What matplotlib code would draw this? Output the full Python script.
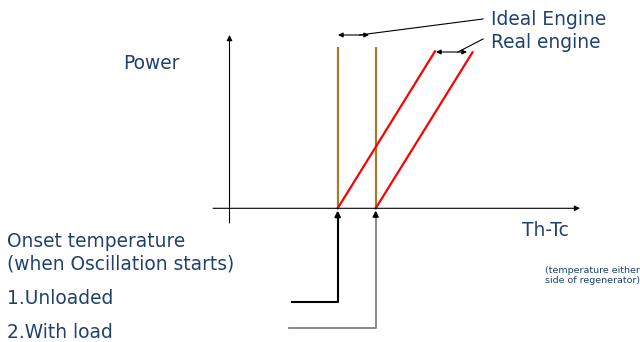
import numpy as np
import matplotlib.pyplot as plt

# schematic values, 1 unit = 10 px, origin at the axis crossing
onset = [10.82, 14.62]          # onset of oscillation: unloaded, with load
ideal_top = 16.1                # top of the vertical (ideal) lines
real_top_x = [20.55, 24.3]      # real engine lines end here
real_top_y = [15.7, 15.6]
bracket_y = [-9.37, -11.97]     # bottom of the onset pointer brackets
bracket_x = [6.25, 5.95]

blue = '#1F4170'
brown = '#A67C28'

fig = plt.figure(figsize=(6.4, 3.42), dpi=100)
ax = fig.add_axes([0, 0, 1, 1])
ax.set_xlim(-22.95, 41.05)
ax.set_ylim(-13.37, 20.83)
ax.axis('off')

arrow = dict(arrowstyle='-|>', mutation_scale=8, lw=0.8, color='black', shrinkA=0, shrinkB=0)

# axes
ax.annotate('', xy=(35.05, 0), xytext=(-1.65, 0), arrowprops=arrow)
ax.annotate('', xy=(0, 17.33), xytext=(0, -1.47), arrowprops=arrow)

# ideal engine: vertical lines at onset
for x0 in onset:
    ax.plot([x0, x0], [0, ideal_top], color=brown, lw=1.6, solid_capstyle='butt')

# real engine: slanted lines
for x0, x1, y1 in zip(onset, real_top_x, real_top_y):
    ax.plot([x0, x1], [0, y1], color='red', lw=1.6)

# onset pointers
colors = ['black', '#808080']
widths = [1.5, 1.3]
for x0, by, bx, c, w in zip(onset, bracket_y, bracket_x, colors, widths):
    ax.plot([bx, x0, x0], [by, by, -0.6], color=c, lw=w)
    ax.annotate('', xy=(x0, -0.22), xytext=(x0, -0.8),
                arrowprops=dict(arrowstyle='-|>', mutation_scale=8, lw=w, color='black',
                                shrinkA=0, shrinkB=0))

# label pointers
dbl = dict(arrowstyle='<|-|>', mutation_scale=7, lw=0.8, color='black', shrinkA=0, shrinkB=0)
ax.annotate('', xy=(onset[0] + 0.03, 17.33), xytext=(13.95, 17.33), arrowprops=dbl)
ax.plot([13.0, 25.35], [17.33, 18.93], color='black', lw=0.8)
ax.annotate('', xy=(real_top_x[0] + 0.1, 15.63), xytext=(23.75, 15.63), arrowprops=dbl)
ax.plot([22.85, 25.35], [15.63, 16.93], color='black', lw=0.8)

fs = 13.4
ax.text(26.15, 18.33, 'Ideal Engine', color=blue, fontsize=fs, va='baseline')
ax.text(26.15, 16.0, 'Real engine', color=blue, fontsize=fs, va='baseline')
ax.text(-10.65, 13.93, 'Power', color=blue, fontsize=fs, va='baseline')
ax.text(29.25, -2.77, 'Th-Tc', color=blue, fontsize=fs, va='baseline')
ax.text(31.55, -5.77, '(temperature either\nside of regenerator)', color=blue,
        fontsize=6.8, va='top', linespacing=1.15)

left_lines = ['Onset temperature', '(when Oscillation starts)', '1.Unloaded', '2.With load']
left_base = [-3.9, -6.07, -9.57, -13.0]
for s, yb in zip(left_lines, left_base):
    ax.text(-22.25, yb, s, color=blue, fontsize=fs, va='baseline')

fig.savefig('out.png', dpi=100)
